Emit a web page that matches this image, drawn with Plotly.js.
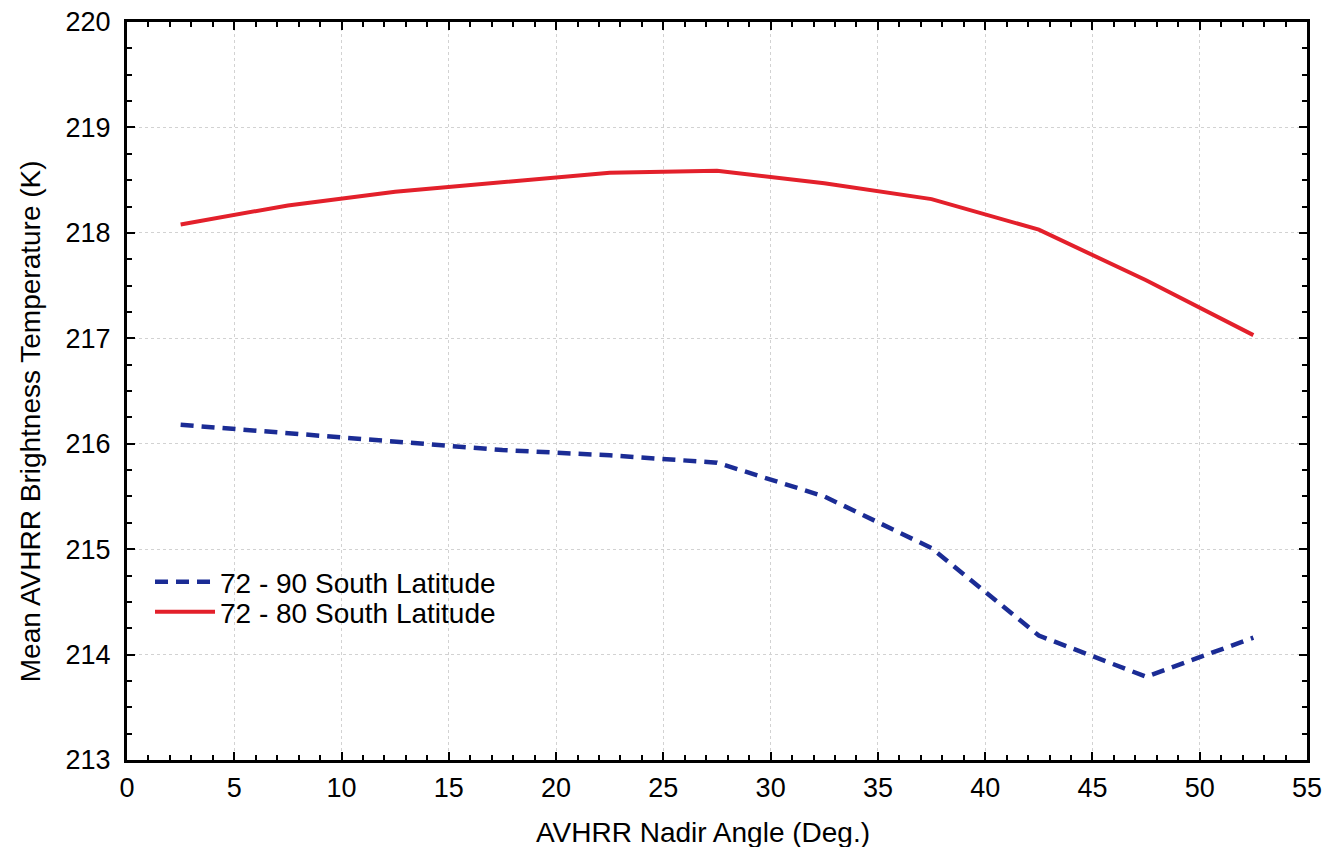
<!DOCTYPE html>
<html>
<head>
<meta charset="utf-8">
<script src="https://cdn.plot.ly/plotly-3.0.1.min.js"></script>
<style>html,body{margin:0;padding:0;background:#fff;}#chart{width:1326px;height:847px;}</style>
</head>
<body>
<div id="chart"></div>
<script>
const nadirAngle = [2.5, 7.5, 12.5, 17.5, 22.5, 27.5, 32.5, 37.5, 42.5, 47.5, 52.5];
const lat72to90 = [216.18, 216.10, 216.03, 215.94, 215.89, 215.82, 215.50, 215.01, 214.18, 213.79, 214.16];
const lat72to80 = [218.08, 218.26, 218.39, 218.48, 218.57, 218.59, 218.47, 218.32, 218.03, 217.55, 217.03];
const seriesNames = ["72 - 90 South Latitude", "72 - 80 South Latitude"];
const xTitle = 'AVHRR Nadir Angle (Deg.)';
const yTitle = 'Mean AVHRR Brightness Temperature (K)';

const FONT = 'Liberation Sans, Arial, sans-serif';

const traces = [
  {x: nadirAngle, y: lat72to90, name: seriesNames[0], mode: 'lines', legend: 'legend',
   line: {color: '#1b2c95', width: 4.5, dash: '13px,8px'}},
  {x: nadirAngle, y: lat72to80, name: seriesNames[1], mode: 'lines', legend: 'legend2',
   line: {color: '#e3202b', width: 4}}
];

const axisCommon = {
  showline: true, linecolor: '#000', linewidth: 3, mirror: 'allticks',
  ticks: 'inside', ticklen: 8, tickwidth: 2, tickcolor: '#000',
  showgrid: true, gridcolor: '#d2d2d2', griddash: 'dot', gridwidth: 1,
  zeroline: false,
  tickfont: {family: FONT, size: 27, color: '#000'}
};

const legendCommon = {
  xanchor: 'left', yanchor: 'middle', bgcolor: 'rgba(0,0,0,0)',
  itemwidth: 60, font: {family: FONT, size: 28, color: '#000'}
};

const layout = {
  width: 1326, height: 847,
  margin: {l: 127, r: 19, t: 22, b: 87},
  paper_bgcolor: '#fff', plot_bgcolor: '#fff',
  showlegend: true,
  legend: Object.assign({}, legendCommon, {x: 0.0195, y: 0.2412}),
  legend2: Object.assign({}, legendCommon, {x: 0.0195, y: 0.2005}),
  xaxis: Object.assign({}, axisCommon, {
    range: [0, 55], tickmode: 'linear', tick0: 0, dtick: 5, ticklabelstandoff: 2,
    minor: {dtick: 1, ticks: 'inside', ticklen: 5, tickwidth: 2, tickcolor: '#000', showgrid: false}
  }),
  yaxis: Object.assign({}, axisCommon, {
    range: [213, 220], tickmode: 'linear', tick0: 213, dtick: 1, ticklabelstandoff: 8,
    minor: {dtick: 0.25, ticks: 'inside', ticklen: 5, tickwidth: 2, tickcolor: '#000', showgrid: false}
  }),
  annotations: [
    {text: yTitle, xref: 'paper', yref: 'paper', x: -0.0822, y: 0.459,
     xanchor: 'center', yanchor: 'middle', textangle: -90, showarrow: false,
     font: {family: FONT, size: 28, color: '#000'}},
    {text: xTitle, xref: 'paper', yref: 'paper', x: 0.488, y: -0.0976,
     xanchor: 'center', yanchor: 'middle', showarrow: false,
     font: {family: FONT, size: 28, color: '#000'}}
  ]
};

Plotly.newPlot('chart', traces, layout, {displayModeBar: false, staticPlot: true});
</script>
</body>
</html>
